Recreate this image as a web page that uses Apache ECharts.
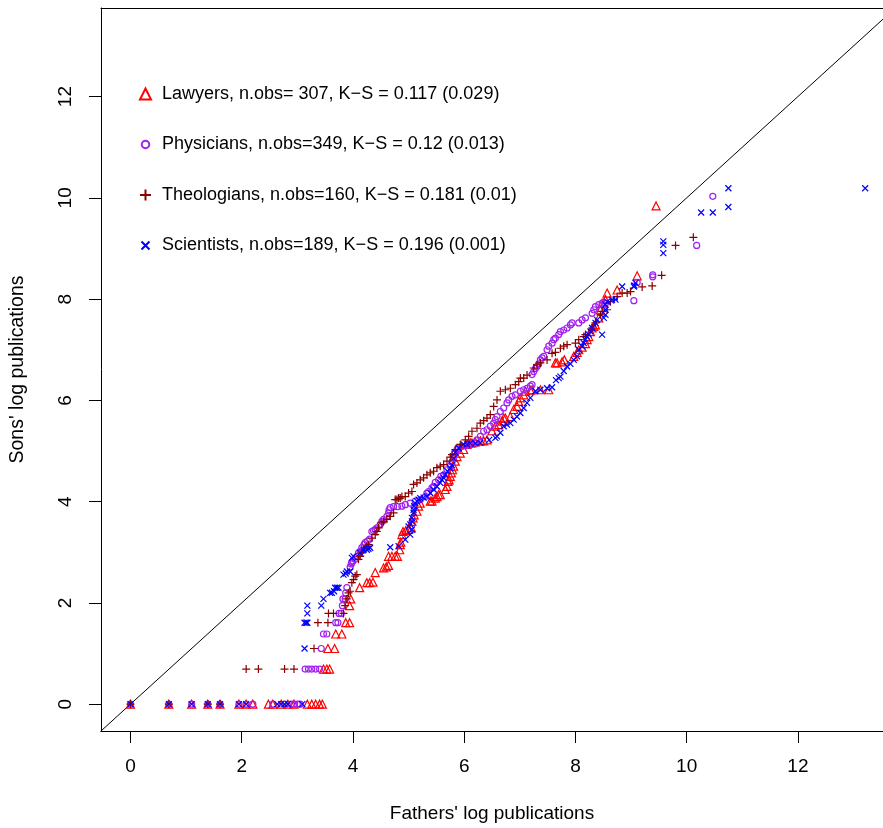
<!DOCTYPE html>
<html>
<head>
<meta charset="utf-8">
<script src="https://cdn.jsdelivr.net/npm/echarts@6/dist/echarts.min.js"></script>
<style>
html,body{margin:0;padding:0;background:#fff;}
#chart{width:883px;height:828px;}
</style>
</head>
<body>
<div id="chart"></div>
<script>
// ---- Data (x = fathers' log publications, y = sons' log publications) ----
const seriesNames = [
  "Lawyers, n.obs= 307, K\u2212S = 0.117 (0.029)",
  "Physicians, n.obs=349, K\u2212S = 0.12 (0.013)",
  "Theologians, n.obs=160, K\u2212S = 0.181 (0.01)",
  "Scientists, n.obs=189, K\u2212S = 0.196 (0.001)"
];
const tickValues = [0, 2, 4, 6, 8, 10, 12];
const refLine = [[-1, -1], [15, 15]];

const lawyers = [
  [0,0],[0.69,0],[1.1,0],[1.39,0],[1.61,0],[1.95,0],[2.08,0],[2.2,0],[2.48,0],[2.56,0],[2.71,0],[2.83,0],[2.94,0],[3.18,0],[3.26,0],[3.33,0],[3.4,0],[3.45,0],
  [3.47,0.693],[3.53,0.693],[3.58,0.693],
  [3.55,1.099],[3.67,1.099],
  [3.69,1.386],[3.80,1.386],
  [3.87,1.609],[3.94,1.609],
  [3.94,1.946],[3.96,2.079],
  [4.12,2.30],[4.25,2.40],[4.30,2.40],[4.36,2.41],[4.40,2.60],[4.55,2.69],[4.60,2.71],[4.64,2.74],
  [4.64,2.92],[4.70,2.92],[4.76,2.92],[4.80,2.92],[4.84,3.05],[4.85,3.15],[4.86,3.20],[4.88,3.35],
  [4.90,3.41],[4.95,3.43],[5.0,3.45],[5.05,3.48],[5.06,3.61],[5.08,3.68],[5.10,3.74],[5.15,3.81],
  [5.18,3.91],[5.21,3.97],[5.39,4.01],[5.42,4.01],[5.48,4.07],[5.51,4.10],[5.54,4.14],[5.57,4.14],
  [5.66,4.24],[5.69,4.30],[5.71,4.40],[5.73,4.43],[5.75,4.50],[5.77,4.57],[5.79,4.63],[5.81,4.70],
  [5.84,4.80],[5.87,4.89],[5.93,4.96],[5.99,5.03],[6.05,5.13],[6.11,5.16],[6.14,5.16],[6.20,5.18],
  [6.29,5.20],[6.35,5.20],[6.41,5.22],[6.50,5.40],[6.56,5.49],[6.62,5.52],[6.68,5.59],[6.71,5.65],
  [6.74,5.65],[6.83,5.68],[6.89,5.82],[6.95,5.88],[6.98,5.98],[7.01,6.05],[7.07,6.11],[7.10,6.18],
  [7.19,6.20],[7.22,6.21],[7.37,6.21],[7.52,6.21],[7.64,6.74],[7.67,6.74],[7.76,6.76],[7.80,6.80],
  [7.97,6.87],[8.03,6.95],[8.06,7.0],[8.12,7.05],[8.18,7.12],[8.21,7.20],[8.24,7.26],[8.27,7.36],
  [8.30,7.43],[8.33,7.46],[8.36,7.49],[8.42,7.63],[8.45,7.79],[8.48,7.92],[8.54,7.99],[8.57,8.12],
  [8.75,8.18],[9.11,8.46],[9.45,9.84]
];

const physicians = [
  [0,0],[0.69,0],[1.1,0],[1.39,0],[1.61,0],[1.95,0],[2.08,0],[2.2,0],[2.56,0],[2.77,0],[2.89,0],[2.94,0],[3.0,0],[3.05,0],
  [3.14,0.693],[3.2,0.693],[3.26,0.693],[3.33,0.693],[3.4,0.693],
  [3.43,1.099],[3.47,1.386],[3.53,1.386],[3.69,1.609],[3.73,1.609],[3.75,1.792],[3.79,1.792],
  [3.81,1.946],[3.82,2.079],[3.86,2.079],[3.87,2.197],[3.89,2.303],
  [3.95,2.71],[3.97,2.77],[3.98,2.80],[4.0,2.83],[4.04,2.86],[4.07,2.92],[4.10,2.99],[4.13,3.02],
  [4.16,3.09],[4.20,3.15],[4.22,3.19],[4.26,3.22],[4.30,3.26],[4.34,3.41],[4.37,3.43],[4.40,3.45],
  [4.43,3.48],[4.49,3.55],[4.52,3.61],[4.55,3.65],[4.61,3.71],[4.64,3.78],[4.65,3.84],[4.67,3.88],
  [4.73,3.90],[4.80,3.90],[4.88,3.91],[4.94,3.94],[5.03,3.97],[5.12,4.01],[5.21,4.04],[5.30,4.10],
  [5.33,4.17],[5.36,4.20],[5.42,4.27],[5.45,4.30],[5.48,4.38],[5.54,4.43],[5.58,4.50],[5.63,4.53],
  [5.69,4.63],[5.75,4.70],[5.78,4.78],[5.81,4.89],[5.84,4.96],[5.87,5.03],[5.90,5.06],[5.96,5.09],
  [6.05,5.11],[6.11,5.13],[6.17,5.16],[6.23,5.22],[6.29,5.29],[6.35,5.39],[6.41,5.42],[6.47,5.49],
  [6.53,5.55],[6.56,5.62],[6.59,5.68],[6.65,5.78],[6.71,5.85],[6.77,5.95],[6.80,6.01],[6.86,6.08],
  [6.92,6.11],[7.01,6.18],[7.07,6.21],[7.13,6.24],[7.19,6.28],[7.22,6.31],[7.22,6.51],[7.25,6.57],
  [7.28,6.63],[7.31,6.67],[7.34,6.72],[7.37,6.80],[7.40,6.84],[7.43,6.87],[7.49,7.0],[7.52,7.07],
  [7.58,7.13],[7.61,7.20],[7.64,7.23],[7.70,7.30],[7.73,7.36],[7.79,7.39],[7.85,7.43],[7.91,7.49],
  [7.94,7.53],[8.06,7.53],[8.12,7.59],[8.18,7.63],[8.30,7.72],[8.33,7.79],[8.36,7.85],[8.42,7.89],
  [8.48,7.92],[8.54,7.92],[9.05,7.97],[9.11,8.33],[9.39,8.44],[9.39,8.48],[10.18,9.06],[10.47,10.03]
];

const theologians = [
  [0,0],[0.69,0],[1.39,0],[1.61,0],
  [2.08,0.693],[2.30,0.693],[2.77,0.693],[2.94,0.693],
  [3.30,1.099],[3.37,1.609],[3.55,1.609],[3.56,1.792],[3.65,1.792],[3.83,1.792],
  [3.86,1.946],[3.89,2.079],[3.92,2.197],[3.95,2.23],
  [3.98,2.40],[4.01,2.46],[4.04,2.53],[4.07,2.56],[4.10,2.86],[4.13,2.92],[4.16,2.99],[4.19,3.05],
  [4.25,3.12],[4.28,3.15],[4.34,3.28],[4.40,3.35],[4.43,3.41],[4.46,3.48],[4.52,3.58],[4.55,3.61],
  [4.61,3.65],[4.67,3.71],[4.73,3.78],[4.76,4.04],[4.79,4.04],[4.82,4.07],[4.85,4.07],[4.88,4.10],
  [4.94,4.10],[5.0,4.17],[5.06,4.20],[5.09,4.34],[5.15,4.37],[5.21,4.43],[5.27,4.47],[5.33,4.53],
  [5.39,4.57],[5.45,4.60],[5.51,4.67],[5.57,4.70],[5.63,4.73],[5.69,4.80],[5.75,4.88],[5.78,4.93],
  [5.84,5.03],[5.93,5.13],[6.02,5.22],[6.08,5.29],[6.14,5.39],[6.23,5.45],[6.29,5.55],[6.35,5.60],
  [6.41,5.65],[6.47,5.72],[6.53,5.88],[6.59,6.01],[6.65,6.18],[6.74,6.21],[6.83,6.24],[6.92,6.31],
  [6.98,6.37],[7.01,6.44],[7.07,6.44],[7.13,6.50],[7.25,6.64],[7.31,6.70],[7.37,6.74],[7.49,6.80],
  [7.58,6.93],[7.64,6.95],[7.73,7.03],[7.79,7.07],[7.85,7.10],[8.0,7.13],[8.06,7.20],[8.15,7.26],
  [8.18,7.30],[8.30,7.43],[8.36,7.53],[8.45,7.69],[8.48,7.76],[8.57,7.79],[8.63,7.95],[8.69,7.99],
  [8.75,8.05],[8.84,8.12],[8.93,8.12],[8.99,8.15],[9.20,8.24],[9.38,8.26],[9.55,8.47],[9.80,9.06],
  [10.12,9.22]
];

const scientists = [
  [0,0],[0.69,0],[1.1,0],[1.39,0],[1.61,0],[1.95,0],[2.08,0],[2.64,0],[2.71,0],[2.77,0],[2.83,0],[3.09,0],
  [3.13,1.099],[3.13,1.609],[3.16,1.609],[3.18,1.609],[3.18,1.792],[3.18,1.946],[3.43,1.946],[3.47,2.079],
  [3.59,2.197],[3.62,2.20],[3.66,2.23],[3.68,2.30],[3.71,2.30],[3.74,2.30],[3.83,2.56],[3.87,2.58],
  [3.89,2.62],[3.95,2.62],[3.98,2.89],[4.01,2.92],[4.13,2.99],[4.19,3.05],[4.25,3.05],[4.28,3.07],
  [4.31,3.09],[4.67,3.10],[4.82,3.12],[4.94,3.25],[5.03,3.35],[5.06,3.45],[5.0,3.51],[5.03,3.55],
  [5.06,3.61],[5.06,3.68],[5.09,3.78],[5.09,3.84],[5.10,3.91],[5.12,3.97],[5.15,4.01],[5.18,4.04],
  [5.21,4.07],[5.27,4.08],[5.33,4.10],[5.39,4.17],[5.45,4.24],[5.51,4.30],[5.57,4.37],[5.60,4.43],
  [5.63,4.47],[5.66,4.53],[5.70,4.60],[5.75,4.66],[5.78,4.72],[5.81,4.85],[5.84,4.97],[5.90,5.06],
  [5.99,5.13],[6.05,5.13],[6.11,5.15],[6.20,5.15],[6.29,5.16],[6.45,5.22],[6.56,5.26],[6.59,5.29],
  [6.65,5.36],[6.71,5.49],[6.77,5.52],[6.83,5.55],[6.89,5.62],[6.95,5.68],[7.01,5.75],[7.07,5.85],
  [7.13,5.95],[7.19,6.05],[7.28,6.18],[7.37,6.21],[7.49,6.24],[7.58,6.26],[7.65,6.40],[7.70,6.44],
  [7.73,6.47],[7.79,6.58],[7.85,6.67],[7.91,6.72],[7.97,6.80],[8.03,6.87],[8.06,7.0],[8.12,7.07],
  [8.15,7.13],[8.18,7.20],[8.21,7.26],[8.24,7.30],[8.27,7.36],[8.30,7.43],[8.36,7.53],[8.39,7.59],
  [8.48,7.30],[8.51,7.63],[8.54,7.69],[8.54,7.79],[8.54,7.89],[8.57,7.95],[8.66,7.99],[8.72,7.99],
  [8.84,8.25],[9.05,8.25],[9.06,8.27],[9.08,8.32],[9.58,8.91],[9.58,9.07],[9.58,9.14],[10.26,9.71],
  [10.47,9.71],[10.75,9.82],[10.75,10.19],[13.21,10.19]
];

// ---- Chart ----
const FONT = "'Liberation Sans', Arial, Helvetica, sans-serif";
const colors = ['#FF0000', '#A020F0', '#8B0000', '#0000FF'];
const symbols = ['triangle', 'circle', 'path://M5,0L5,10M0,5L10,5', 'path://M0,0L10,10M10,0L0,10'];
const legendIcons = [
  'triangle',
  'path://M0,0M11,11M1.75,5.5A3.75,3.75,0,1,1,9.25,5.5A3.75,3.75,0,1,1,1.75,5.5Z',
  'path://M5.5,0L5.5,11M0,5.5L11,5.5',
  'path://M0,0M11,11M1.5,1.5L9.5,9.5M9.5,1.5L1.5,9.5'
];
const sizes = [8, 6, 8, 6];
const dataSets = [lawyers, physicians, theologians, scientists];

const chart = echarts.init(document.getElementById('chart'), null, {renderer: 'canvas'});

const X_MIN = -0.53, X_MAX = 13.53, Y_MIN = -0.53, Y_MAX = 13.75;

const xAxisMain = {
  type: 'value', min: X_MIN, max: X_MAX, position: 'bottom',
  splitLine: {show: false},
  axisLine: {show: true, onZero: false, lineStyle: {color: '#000', width: 1}},
  axisTick: {show: true, inside: false, length: 12, customValues: tickValues, lineStyle: {color: '#000', width: 1}},
  axisLabel: {customValues: tickValues, margin: 26, fontSize: 19, color: '#000', fontFamily: FONT},
  name: "Fathers' log publications", nameLocation: 'middle', nameGap: 73,
  nameTextStyle: {fontSize: 19, color: '#000', fontFamily: FONT}
};
const xAxisTop = {
  type: 'value', min: X_MIN, max: X_MAX, position: 'top',
  splitLine: {show: false},
  axisLine: {show: true, onZero: false, lineStyle: {color: '#000', width: 1}},
  axisTick: {show: false}, axisLabel: {show: false}
};
const yAxis = {
  type: 'value', min: Y_MIN, max: Y_MAX,
  splitLine: {show: false},
  axisLine: {show: true, onZero: false, lineStyle: {color: '#000', width: 1}},
  axisTick: {show: true, inside: false, length: 12, customValues: tickValues, lineStyle: {color: '#000', width: 1}},
  axisLabel: {customValues: tickValues, margin: 26, rotate: 90, fontSize: 19, color: '#000', fontFamily: FONT},
  name: "Sons' log publications", nameLocation: 'middle', nameGap: 73,
  nameTextStyle: {fontSize: 19.5, color: '#000', fontFamily: FONT}
};

const series = [{
  type: 'line', name: 'ref', data: refLine, symbol: 'none', clip: true, silent: true,
  xAxisIndex: 0, yAxisIndex: 0,
  lineStyle: {color: '#000', width: 1}, z: 1
}];
dataSets.forEach((d, i) => {
  series.push({
    type: 'scatter', name: seriesNames[i], data: d,
    xAxisIndex: 0, yAxisIndex: 0,
    symbol: symbols[i], symbolSize: sizes[i], clip: true,
    itemStyle: {color: 'rgba(0,0,0,0)', borderColor: colors[i], borderWidth: 1.2, opacity: 1},
    emphasis: {disabled: true}, z: 2 + i
  });
});

chart.setOption({
  animation: false,
  backgroundColor: '#fff',
  grid: {left: 101, top: 8, right: 0, bottom: 96, show: false},
  xAxis: [xAxisMain, xAxisTop],
  yAxis: yAxis,
  legend: {
    orient: 'vertical', left: 139, top: 85, padding: 0,
    itemWidth: 11, itemHeight: 11, itemGap: 32.5,
    selectedMode: false,
    data: seriesNames.map((n, i) => ({name: n, icon: legendIcons[i]})),
    textStyle: {fontSize: 18, lineHeight: 18, color: '#000', fontFamily: FONT, padding: [0, 0, 0, 6]}
  },
  series: series
});
</script>
</body>
</html>
